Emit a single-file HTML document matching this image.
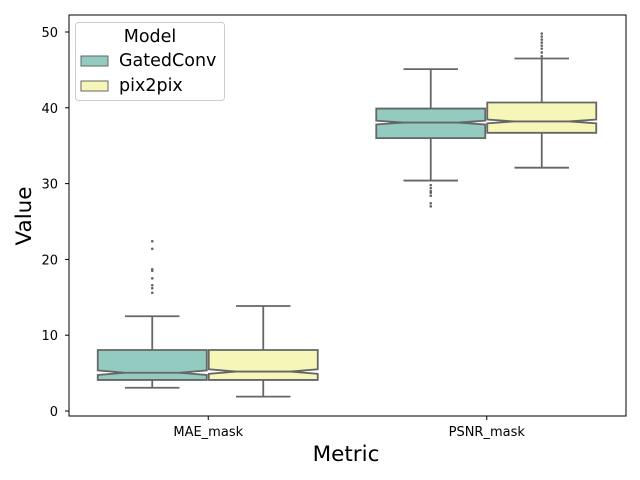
<!DOCTYPE html>
<html><head><meta charset="utf-8"><style>
body{margin:0;background:#fff}
svg{display:block;font-family:"DejaVu Sans","Liberation Sans",sans-serif}
</style></head><body>
<svg id="chart" width="640" height="480">
<rect x="0" y="0" width="640" height="480" fill="#fff"/>
<g id="boxes"></g>
<rect x="69" y="15" width="557" height="401" fill="none" stroke="#000" stroke-width="1"/>
<g id="axes"></g>
<text x="346" y="461" font-size="21.5" text-anchor="middle">Metric</text>
<text transform="translate(31,216) rotate(-90)" font-size="21.5" text-anchor="middle">Value</text>
<g>
<rect x="75.5" y="22.5" width="149" height="78" rx="3" fill="#fff" fill-opacity="0.8" stroke="#ccc"/>
<text x="150" y="42" font-size="17.5" text-anchor="middle">Model</text>
<rect x="81" y="56" width="27" height="10" fill="#93cbc0" stroke="#666"/>
<text x="119" y="66" font-size="17.5">GatedConv</text>
<rect x="81" y="81" width="27" height="10" fill="#f7f6b9" stroke="#666"/>
<text x="119" y="91" font-size="17.5">pix2pix</text>
</g>
</svg>
<script>
const categories=["MAE_mask","PSNR_mask"];
const models=["GatedConv","pix2pix"];
const colors=["#93cbc0","#f7f6b9"];
const q1=[[4.1,4.1],[36.0,36.7]];
const medians=[[5.05,5.2],[38.05,38.2]];
const q3=[[8.05,8.05],[39.9,40.7]];
const whiskLo=[[3.07,1.9],[30.4,32.1]];
const whiskHi=[[12.5,13.85],[45.1,46.5]];
const notchHalf=[[0.3,0.3],[0.25,0.25]];
const outliers=[[[22.4,21.4,18.7,18.5,17.5,16.6,16.2,15.6],[]],[[29.8,29.4,29.0,28.8,28.4,27.4,27.0],[46.8,47.3,47.8,48.2,48.6,49.0,49.4,49.8]]];
const yTicks=[0,10,20,30,40,50];
const NS="http://www.w3.org/2000/svg";
const X0=69,X1=626;
function y(v){return 411-v*7.58;}
function catX(i){return X0+(X1-X0)*(i+0.5)/categories.length;}
const bw=109;
function mk(tag,attrs,parent){const e=document.createElementNS(NS,tag);for(const k in attrs)e.setAttribute(k,attrs[k]);parent.appendChild(e);return e;}
const g=document.getElementById('boxes');
categories.forEach((c,i)=>{
  models.forEach((m,j)=>{
    const cx=catX(i)+(j===0?-bw/2-1.5:bw/2+0.5);
    const l=cx-bw/2,r=cx+bw/2;
    const col="#666";
    const wl=mk('line',{x1:cx,x2:cx,y1:y(q3[i][j]),y2:y(whiskHi[i][j]),stroke:col,'stroke-width':1.8},g);
    
    
    const wl2=mk('line',{x1:cx,x2:cx,y1:y(q1[i][j]),y2:y(whiskLo[i][j]),stroke:col,'stroke-width':1.8},g);
    
    
    [whiskHi[i][j],whiskLo[i][j]].forEach(v=>{
      const cap=mk('line',{x1:cx-bw/4,x2:cx+bw/4,y1:y(v),y2:y(v),stroke:col,'stroke-width':1.8},g);
      
      
    });
    const md=medians[i][j],nh=notchHalf[i][j];
    const pts=[[l,y(q1[i][j])],[l,y(md-nh)],[l+bw/4,y(md)],[l,y(md+nh)],[l,y(q3[i][j])],[r,y(q3[i][j])],[r,y(md+nh)],[r-bw/4,y(md)],[r,y(md-nh)],[r,y(q1[i][j])]];
    const box=mk('polygon',{points:pts.map(p=>p.join(',')).join(' '),fill:colors[j],stroke:col,'stroke-width':1.8},g);
    
    
    const ml=mk('line',{x1:l+bw/4,x2:r-bw/4,y1:y(md),y2:y(md),stroke:col,'stroke-width':1.8},g);
    
    
    outliers[i][j].forEach(v=>{
      const o=mk('circle',{cx:cx,cy:y(v),r:1.3,fill:col},g);
      
      
    });
  });
});
const ax=document.getElementById('axes');
yTicks.forEach(t=>{
  const tl=mk('line',{x1:65,x2:69,y1:y(t),y2:y(t),stroke:'#000'},ax);
  
  
  const tx=mk('text',{x:58,y:y(t)+5,'font-size':13,'text-anchor':'end'},ax);
  tx.textContent=t;
  
  
});
categories.forEach((c,i)=>{
  const tl=mk('line',{x1:catX(i),x2:catX(i),y1:416,y2:420,stroke:'#000'},ax);
  
  
  const tx=mk('text',{x:catX(i),y:436,'font-size':13,'text-anchor':'middle'},ax);
  tx.textContent=c;
  
  
});
</script>
</body></html>
